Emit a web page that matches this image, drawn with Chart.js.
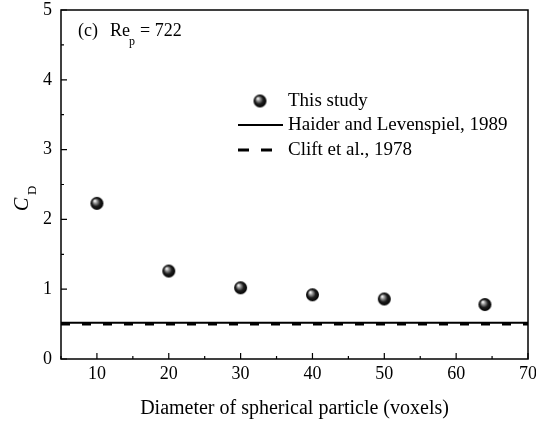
<!DOCTYPE html>
<html>
<head>
<meta charset="utf-8">
<title>Drag coefficient vs particle diameter</title>
<script src="https://cdn.jsdelivr.net/npm/chart.js@4/dist/chart.umd.min.js"></script>
<style>
  html, body { margin: 0; padding: 0; background: #ffffff; }
  #wrap { width: 536px; height: 423px; position: relative; }
</style>
</head>
<body>
<div id="wrap"><canvas id="cdChart"></canvas></div>
<script>
// Data
const diameters = [10, 20, 30, 40, 50, 64];
const cdValues = [2.23, 1.26, 1.02, 0.92, 0.86, 0.78];
const haiderCd = 0.52;
const cliftCd = 0.50;
const xRange = [5, 70];
const xTicks = [10, 20, 30, 40, 50, 60, 70];
const xMinorTicks = [5, 15, 25, 35, 45, 55, 65];
const yTicks = [0, 1, 2, 3, 4, 5];
const yMinorTicks = [0.5, 1.5, 2.5, 3.5, 4.5];
const labels = ['This study', 'Haider and Levenspiel, 1989', 'Clift et al., 1978'];

const serif = '"Liberation Serif", "Times New Roman", serif';

// Shaded sphere marker like the original plot symbol
function makeSphere(r) {
  const c = document.createElement('canvas');
  c.width = c.height = r * 2 + 2;
  const g = c.getContext('2d');
  const cx = r + 1, cy = r + 1;
  const grad = g.createRadialGradient(cx - r * 0.35, cy - r * 0.4, r * 0.05, cx, cy, r);
  grad.addColorStop(0, '#ffffff');
  grad.addColorStop(0.25, '#9a9a9a');
  grad.addColorStop(0.6, '#1e1e1e');
  grad.addColorStop(1, '#000000');
  g.fillStyle = grad;
  g.beginPath();
  g.arc(cx, cy, r, 0, Math.PI * 2);
  g.fill();
  return c;
}
const sphere = makeSphere(6.5);

// Frame, inward ticks, legend, annotation and y title
const decorPlugin = {
  id: 'decor',
  afterDraw(chart) {
    const ctx = chart.ctx;
    const a = chart.chartArea;
    const xs = chart.scales.x, ys = chart.scales.y;
    ctx.save();
    ctx.strokeStyle = '#000';
    ctx.lineWidth = 1.5;
    ctx.strokeRect(a.left, a.top, a.right - a.left, a.bottom - a.top);

    ctx.lineWidth = 1.2;
    ctx.beginPath();
    xTicks.forEach(v => { const p = xs.getPixelForValue(v); ctx.moveTo(p, a.bottom); ctx.lineTo(p, a.bottom - 6); });
    xMinorTicks.forEach(v => { const p = xs.getPixelForValue(v); ctx.moveTo(p, a.bottom); ctx.lineTo(p, a.bottom - 3); });
    yTicks.forEach(v => { const p = ys.getPixelForValue(v); ctx.moveTo(a.left, p); ctx.lineTo(a.left + 6, p); });
    yMinorTicks.forEach(v => { const p = ys.getPixelForValue(v); ctx.moveTo(a.left, p); ctx.lineTo(a.left + 3, p); });
    ctx.stroke();

    // Legend
    ctx.fillStyle = '#000';
    ctx.font = '19px ' + serif;
    ctx.textBaseline = 'middle';
    ctx.textAlign = 'left';
    const lx = 288;
    ctx.drawImage(sphere, 260 - sphere.width / 2, 101 - sphere.height / 2);
    ctx.fillText(labels[0], lx, 101);
    ctx.lineWidth = 2;
    ctx.beginPath(); ctx.moveTo(238, 125); ctx.lineTo(283, 125); ctx.stroke();
    ctx.fillText(labels[1], lx, 125);
    ctx.lineWidth = 3;
    ctx.setLineDash([11, 12]);
    ctx.beginPath(); ctx.moveTo(238, 150); ctx.lineTo(283, 150); ctx.stroke();
    ctx.setLineDash([]);
    ctx.fillText(labels[2], lx, 150);

    // Annotation
    ctx.font = '18px ' + serif;
    ctx.fillText('(c)', 78, 31);
    ctx.fillText('Re', 110, 31);
    ctx.font = '12px ' + serif;
    ctx.fillText('p', 129, 42);
    ctx.font = '18px ' + serif;
    ctx.fillText('= 722', 140, 31);

    // y title: C_D rotated
    ctx.translate(28, 211);
    ctx.rotate(-Math.PI / 2);
    ctx.font = 'italic 20px ' + serif;
    ctx.textBaseline = 'alphabetic';
    ctx.fillText('C', 0, 0);
    ctx.font = '13px ' + serif;
    ctx.fillText('D', 16, 8);
    ctx.restore();
  }
};

new Chart(document.getElementById('cdChart'), {
  type: 'scatter',
  data: {
    datasets: [{
      label: labels[0],
      data: diameters.map((d, i) => ({ x: d, y: cdValues[i] })),
      pointStyle: sphere,
      pointRadius: 7,
      showLine: false
    }, {
      label: labels[2],
      type: 'line',
      data: xRange.map(x => ({ x: x, y: cliftCd })),
      borderColor: '#000',
      borderWidth: 3,
      borderDash: [9, 12],
      pointRadius: 0
    }, {
      label: labels[1],
      type: 'line',
      data: xRange.map(x => ({ x: x, y: haiderCd })),
      borderColor: '#000',
      borderWidth: 2,
      pointRadius: 0
    }]
  },
  options: {
    responsive: true,
    maintainAspectRatio: false,
    animation: false,
    layout: { padding: { left: 0, right: 8, top: 10, bottom: 0 } },
    scales: {
      x: {
        type: 'linear',
        min: xRange[0],
        max: xRange[1],
        afterBuildTicks: s => { s.ticks = xTicks.map(v => ({ value: v })); },
        afterFit: s => {
          s.height = 64;
          s.paddingLeft = 0;
          s.paddingRight = 0;
        },
        grid: { display: false, drawTicks: false },
        border: { display: false },
        ticks: { color: '#000', font: { family: serif, size: 18 }, padding: 4, maxRotation: 0 },
        title: {
          display: true,
          text: 'Diameter of spherical particle (voxels)',
          color: '#000',
          font: { family: serif, size: 20 },
          padding: { top: 6, bottom: 2 }
        }
      },
      y: {
        min: 0,
        max: 5,
        afterBuildTicks: s => { s.ticks = yTicks.map(v => ({ value: v })); },
        afterFit: s => {
          s.width = 61;
          s.paddingTop = 0;
          s.paddingBottom = 0;
        },
        grid: { display: false, drawTicks: false },
        border: { display: false },
        ticks: { color: '#000', font: { family: serif, size: 18 }, padding: 9 }
      }
    },
    plugins: {
      legend: { display: false },
      tooltip: { enabled: false }
    }
  },
  plugins: [decorPlugin]
});
</script>
</body>
</html>
